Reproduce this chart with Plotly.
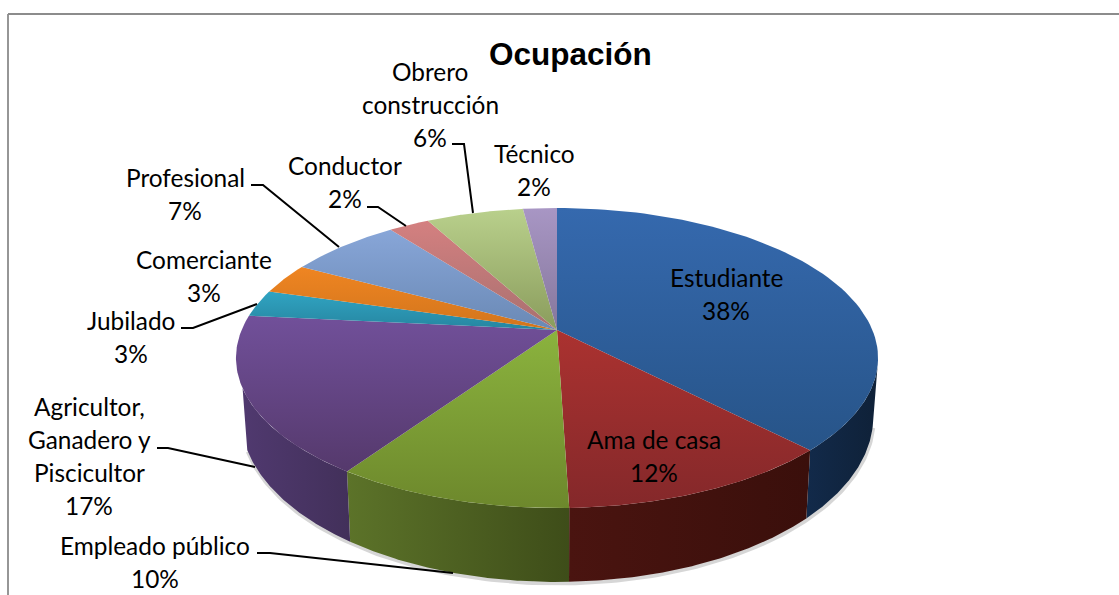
import numpy as np
import plotly.graph_objects as go

# shares, clockwise from 12 o'clock
categories = ['Estudiante', 'Ama de casa', 'Empleado público', 'Agricultor, Ganadero y Piscicultor',
              'Jubilado', 'Comerciante', 'Profesional', 'Conductor', 'Obrero construcción', 'Técnico']
shares = [37.7, 11.7, 10.0, 17.04, 2.9, 3.35, 6.77, 2.45, 5.85, 2.04]

top_light = ['#3569ae', '#ab3230', '#8bb33e', '#71509a', '#30a4c2', '#ef8522', '#88a6d8', '#d48080', '#b9d08c', '#a896c4']
top_dark = ['#275488', '#84282a', '#6d882c', '#55396c', '#2685a0', '#d2751c', '#6a89b5', '#a87070', '#8a9c5c', '#85779c']
wall_left = ['#122a4a', '#4a1410', '#5c7329', '#50396f', '#1f5c70', '#8a4a10', '#4c5f80', '#7a4040', '#5c6a38', '#584c6c']
wall_right = ['#0f2138', '#3a0f0b', '#3e4d19', '#42305a', '#1f5c70', '#8a4a10', '#4c5f80', '#7a4040', '#5c6a38', '#584c6c']

# label lines as (text, x, y of line centre) per category; last line is the percentage
label_lines = {
    'Estudiante': (['Estudiante'], 726, 277),
    'Ama de casa': (['Ama de casa'], 654, 439),
    'Empleado público': (['Empleado público'], 155, 545),
    'Agricultor, Ganadero y Piscicultor': (['Agricultor,', 'Ganadero y', 'Piscicultor'], 89, 406),
    'Jubilado': (['Jubilado'], 131, 320),
    'Comerciante': (['Comerciante'], 204, 259),
    'Profesional': (['Profesional'], 185, 177),
    'Conductor': (['Conductor'], 345, 165),
    'Obrero construcción': (['Obrero', 'construcción'], 430, 71),
    'Técnico': (['Técnico'], 534, 153),
}
leaders = [
    ([251, 263, 339], [185, 185, 247]),
    ([367, 378, 406], [207, 207, 226]),
    ([452, 464, 473], [144, 144, 213]),
    ([181, 193, 257], [328, 328, 304]),
    ([157, 168, 255], [448, 448, 467]),
    ([257, 270, 453], [553, 553, 573]),
]

CX, CY = 557, 330
K, RX, RY = 0.1867, 315.4, 144.8
# side wall only shows between these two points of the rim
FRONT_START, FRONT_END = np.radians(104), np.radians(248)


def rim_top(theta):
    # perspective view of the pie's upper circle
    u, v = np.sin(theta), np.cos(theta)
    w = 1 + K * v
    return CX + RX * u / w, CY - RY * v / w


def rim_bottom(theta):
    x, y = rim_top(theta)
    return CX + (x - CX) * 0.985, 517 + (y - 449) * 1.10


edges = np.cumsum([0] + shares) / sum(shares) * 2 * np.pi

fig = go.Figure()

# soft shadow under the pie
front = np.linspace(FRONT_START, FRONT_END, 160)
sx, sy = rim_bottom(front)
fig.add_trace(go.Scatter(x=sx + 0.5, y=sy + 1.5, mode='lines', line=dict(color='rgba(90,90,90,0.25)', width=4)))

# side walls
for i in range(len(shares)):
    start, end = max(edges[i], FRONT_START), min(edges[i + 1], FRONT_END)
    if start >= end:
        continue
    theta = np.linspace(start, end, 80)
    tx, ty = rim_top(theta)
    bx, by = rim_bottom(theta[::-1])
    xs = np.concatenate([tx, bx, tx[:1]])
    ys = np.concatenate([ty, by, ty[:1]])
    fig.add_trace(go.Scatter(
        x=xs, y=ys, mode='lines', fill='toself', line=dict(width=0),
        fillgradient=dict(type='horizontal', start=float(xs.min()), stop=float(xs.max()),
                          colorscale=[[0, wall_left[i]], [1, wall_right[i]]]),
    ))

# upper faces
for i in range(len(shares)):
    theta = np.linspace(edges[i], edges[i + 1], 80)
    tx, ty = rim_top(theta)
    xs = np.concatenate([[CX], tx, [CX]])
    ys = np.concatenate([[CY], ty, [CY]])
    fig.add_trace(go.Scatter(
        x=xs, y=ys, mode='lines', fill='toself', line=dict(width=0),
        fillgradient=dict(type='vertical', start=float(ys.min()), stop=float(ys.max()),
                          colorscale=[[0, top_light[i]], [1, top_dark[i]]]),
    ))

# leader lines
for lx, ly in leaders:
    fig.add_trace(go.Scatter(x=lx, y=ly, mode='lines', line=dict(color='black', width=2)))

# text labels, one annotation per line for the wide Excel line spacing
annotations = []
for name, share in zip(categories, shares):
    lines, x, y = label_lines[name]
    for j, text in enumerate(lines + [f'{round(share)}%']):
        annotations.append(dict(x=x, y=y + j * 33, text=text, showarrow=False,
                                xref='x', yref='y', xanchor='center', yanchor='middle',
                                font=dict(family='Lato', size=24.4, color='black')))
annotations.append(dict(x=570, y=54, text='<b>Ocupación</b>', showarrow=False, xref='x', yref='y',
                        xanchor='center', yanchor='middle',
                        font=dict(family='Liberation Sans', size=31.5, color='black')))

# chart frame, cut off at the bottom and on the right
frame = [
    dict(type='line', xref='x', yref='y', x0=8, x1=8, y0=14, y1=595, line=dict(color='#969696', width=2)),
    dict(type='line', xref='x', yref='y', x0=8, x1=1119, y0=14, y1=14, line=dict(color='#8c8c8c', width=2)),
]

fig.update_layout(
    width=1119,
    height=595,
    margin=dict(l=0, r=0, t=0, b=0),
    paper_bgcolor='white',
    plot_bgcolor='white',
    showlegend=False,
    hovermode=False,
    xaxis=dict(visible=False, range=[0, 1119], fixedrange=True),
    yaxis=dict(visible=False, range=[595, 0], fixedrange=True),
    annotations=annotations,
    shapes=frame,
)

fig.write_html("out.html", config=dict(displayModeBar=False), post_script="document.body.style.margin='0';")
